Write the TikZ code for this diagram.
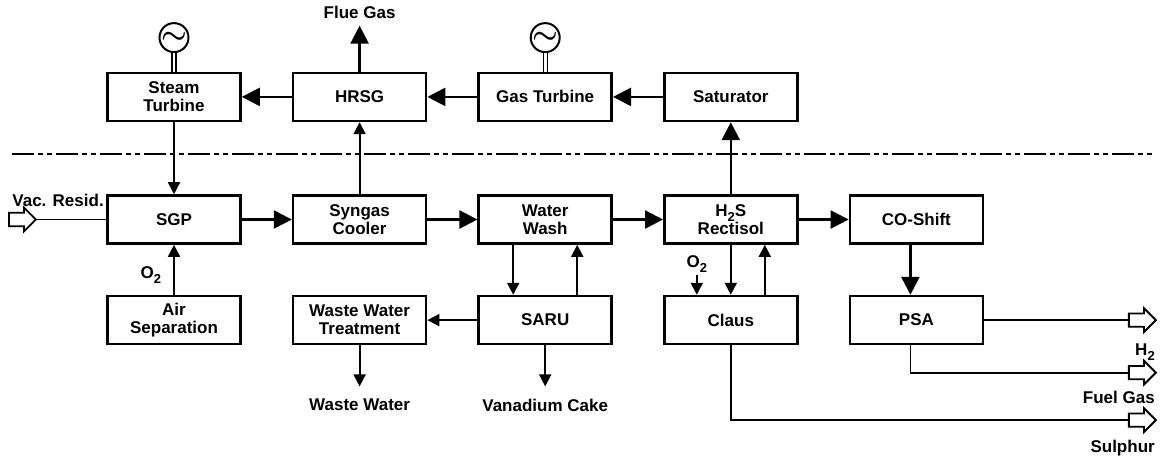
\documentclass[tikz,border=0pt]{standalone}
\usepackage{fontspec}
\setmainfont{Liberation Sans}
\usetikzlibrary{arrows.meta, positioning, shapes.arrows}

\newcommand{\lowsub}[1]{\raisebox{-0.55ex}{\fontsize{6.5}{6.5}\selectfont #1}}

\begin{document}
\begin{tikzpicture}[
  x=1pt, y=1pt,
  node distance=25pt,
  block/.style={rectangle, draw, line width=1.3pt, minimum width=66.5pt, minimum height=24pt, inner sep=2pt, align=center, font=\fontsize{8.5}{9}\selectfont\bfseries},
  tag/.style={font=\fontsize{8.5}{9}\selectfont\bfseries, inner sep=1pt},
  gen/.style={circle, draw, line width=1pt, minimum size=14.5pt, inner sep=0pt, font=\Large\boldmath},
  hollow/.style={single arrow, draw, line width=0.9pt, fill=white, inner xsep=0pt, inner ysep=2.9pt, minimum height=13.5pt, single arrow head extend=2.6pt},
  flow/.style={-{Triangle[length=9pt, width=9pt]}, line width=1.2pt},
  feed/.style={-{Triangle[length=6pt, width=6pt]}, line width=0.9pt},
  pipe/.style={line width=0.9pt},
  shaft/.style={double, double distance=1.4pt, line width=0.6pt},
  divider/.style={line width=0.8pt, dash pattern=on 11pt off 2pt on 2.5pt off 2pt on 2.5pt off 2pt}
]
  \useasboundingbox (0,0) rectangle (580,-228.5);

  % gas line
  \node[block] (sgp) at (87,-109.75) {SGP};
  \node[block, right=of sgp] (cooler) {Syngas\\Cooler};
  \node[block, right=of cooler] (wash) {Water\\Wash};
  \node[block, right=of wash] (rectisol) {H\lowsub{2}S\\Rectisol};
  \node[block, right=of rectisol] (shift) {CO-Shift};

  % power block
  \node[block, above=36pt of sgp] (steam) {Steam\\Turbine};
  \node[block, above=36pt of cooler] (hrsg) {HRSG};
  \node[block, above=36pt of wash] (gasturb) {Gas Turbine};
  \node[block, above=36pt of rectisol] (saturator) {Saturator};
  \node[gen, above=9.25pt of steam] (gen1) {$\sim$};
  \node[gen, above=9.25pt of gasturb] (gen2) {$\sim$};
  \node[tag, inner ysep=3.5pt, above=23pt of hrsg] (flue) {Flue Gas};

  % auxiliary units
  \node[block, below=of sgp] (airsep) {Air\\Separation};
  \node[block, below=of cooler] (wwt) {Waste Water\\Treatment};
  \node[block, below=of wash] (saru) {SARU};
  \node[block, below=of rectisol] (claus) {Claus};
  \node[block, below=of shift] (psa) {PSA};

  \node[tag, inner ysep=6pt, below=20.5pt of wwt] (wastewater) {Waste Water};
  \node[tag, inner ysep=6pt, below=20.5pt of saru] (vanadium) {Vanadium Cake};
  \node[tag, above=10pt of claus.north, xshift=-17pt] (o2claus) {O\lowsub{2}};

  % feed and products
  \node[hollow, left=34.5pt of sgp] (vacin) {};
  \node[tag, anchor=south west] (vaclabel) at (5,-104.5) {Vac. Resid.};
  \coordinate (outx) at (569.5,0);
  \node[hollow] (h2out) at (outx |- psa) {};
  \node[hollow] (fuelout) at ([yshift=-26.25pt]h2out) {};
  \node[hollow] (sulout) at ([yshift=-50pt]h2out) {};
  \node[tag, anchor=north east] (h2lab) at ([yshift=-10.5pt]h2out.tip) {H\lowsub{2}};
  \node[tag, anchor=north east] (fuellab) at ([yshift=-8pt]fuelout.tip) {Fuel Gas};
  \node[tag, anchor=north east] (sullab) at ([yshift=-8.75pt]sulout.tip) {Sulphur};

  \coordinate (divL) at (6,-77);
  \coordinate (divR) at (577.5,-77);
  \draw[divider] (divL) -- (divR);

  \draw[shaft] (gen1) -- (steam);
  \draw[shaft] (gen2) -- (gasturb);

  \draw[flow] (hrsg) -- (steam);
  \draw[flow] (gasturb) -- (hrsg);
  \draw[flow] (saturator) -- (gasturb);
  \draw[flow] (hrsg) -- (flue);
  \draw[feed] (steam) -- (sgp);
  \draw[feed] (cooler) -- (hrsg);
  \draw[flow] (rectisol) -- (saturator);

  \draw[flow] (sgp) -- (cooler);
  \draw[flow] (cooler) -- (wash);
  \draw[flow] (wash) -- (rectisol);
  \draw[flow] (rectisol) -- (shift);
  \draw[flow] ([xshift=-3pt]shift.south) -- ([xshift=-3pt]psa.north);

  \draw[feed] (airsep) -- node[tag, left=5pt, pos=0.4] (o2air) {O\lowsub{2}} (sgp);
  \draw[feed] ([xshift=-16pt]wash.south) -- ([xshift=-16pt]saru.north);
  \draw[feed] ([xshift=16pt]saru.north) -- ([xshift=16pt]wash.south);
  \draw[feed] (saru) -- (wwt);
  \draw[feed] (wwt) -- (wastewater);
  \draw[feed] (saru) -- (vanadium);
  \draw[feed] (rectisol) -- (claus);
  \draw[feed] ([xshift=17pt]claus.north) -- ([xshift=17pt]rectisol.south);
  \draw[feed] (o2claus) -- (o2claus |- claus.north);

  \draw[pipe] (vacin.tip) -- (sgp.west);
  \draw[pipe] (psa.east) -- (h2out.tail);
  \draw[pipe] ([xshift=-3pt]psa.south) |- (fuelout.tail);
  \draw[pipe] (claus.south) |- (sulout.tail);
\end{tikzpicture}
\end{document}
